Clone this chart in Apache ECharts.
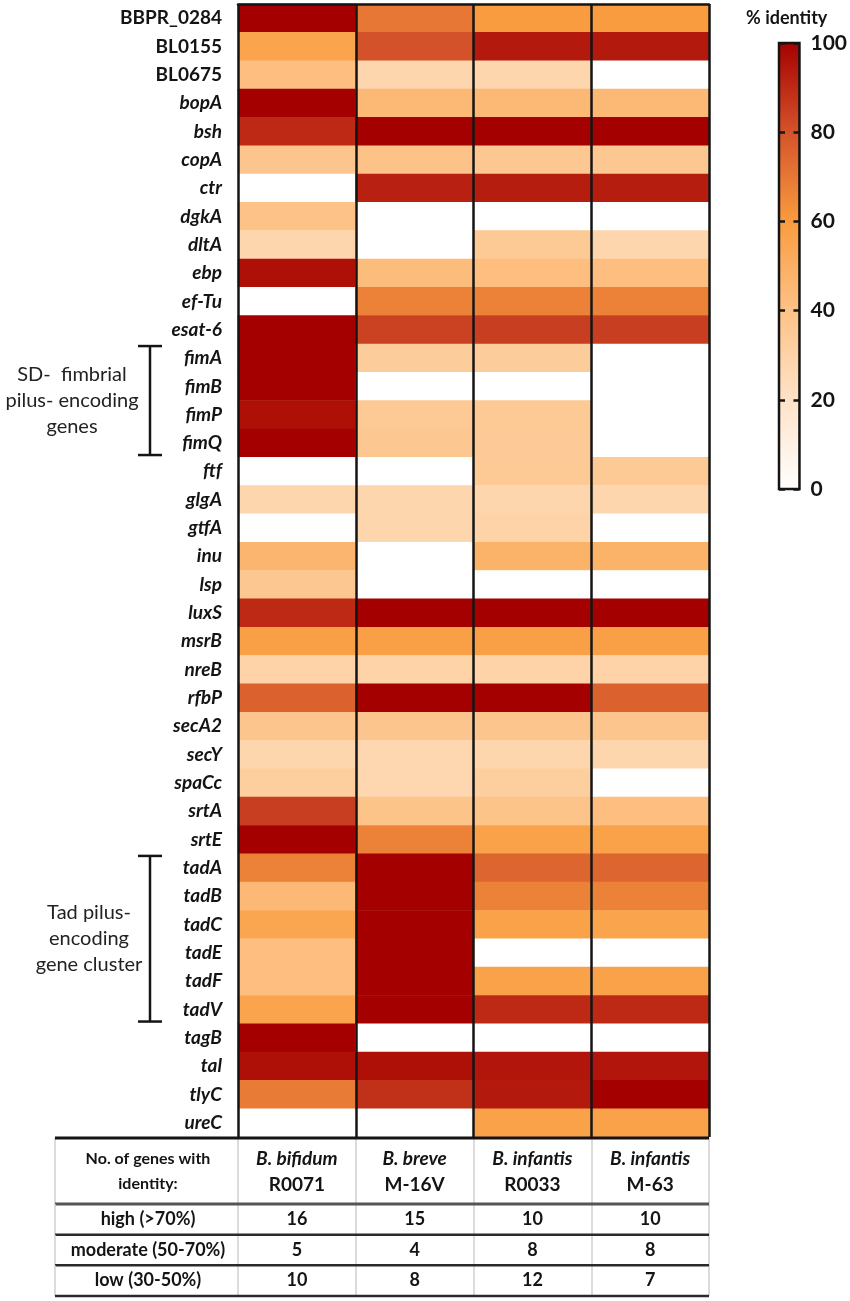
<!DOCTYPE html>
<html>
<head>
<meta charset="utf-8">
<script src="https://cdn.jsdelivr.net/npm/echarts@6/dist/echarts.min.js"></script>
<style>
  html, body { margin: 0; padding: 0; background: #fff; }
  #main { width: 850px; height: 1301px; }
</style>
</head>
<body>
<div id="main"></div>
<script>
// columns: strains
var strainNames = ['B. bifidum', 'B. breve', 'B. infantis', 'B. infantis'];
var strainCodes = ['R0071', 'M-16V', 'R0033', 'M-63'];

// rows: genes (top to bottom)
var genes = ['BBPR_0284', 'BL0155', 'BL0675', 'bopA', 'bsh', 'copA', 'ctr', 'dgkA', 'dltA', 'ebp',
  'ef-Tu', 'esat-6', 'fimA', 'fimB', 'fimP', 'fimQ', 'ftf', 'glgA', 'gtfA', 'inu',
  'lsp', 'luxS', 'msrB', 'nreB', 'rfbP', 'secA2', 'secY', 'spaCc', 'srtA', 'srtE',
  'tadA', 'tadB', 'tadC', 'tadE', 'tadF', 'tadV', 'tagB', 'tal', 'tlyC', 'ureC'];
// locus tags are not written in italics
var plainGenes = ['BBPR_0284', 'BL0155', 'BL0675'];

// % identity, one list per strain, same order as genes
var bifidumR0071 = [100, 56, 42, 100, 90, 38, 0, 40, 28, 96,
  0, 100, 100, 100, 96, 100, 0, 28, 0, 47,
  37, 90, 58, 30, 76, 38, 28, 33, 85, 100,
  67, 45, 55, 42, 42, 56, 100, 96, 69, 0];
var breveM16V = [70, 80, 28, 45, 100, 40, 92, 0, 0, 43,
  67, 84, 34, 0, 36, 37, 0, 28, 28, 0,
  0, 100, 58, 30, 100, 38, 27, 27, 39, 67,
  100, 100, 100, 100, 100, 100, 0, 96, 88, 0];
var infantisR0033 = [60, 94, 28, 45, 100, 37, 93, 0, 36, 42,
  67, 85, 34, 0, 36, 35, 36, 28, 30, 48,
  0, 100, 58, 30, 100, 38, 28, 33, 39, 57,
  75, 67, 57, 0, 57, 90, 0, 95, 94, 57];
var infantisM63 = [60, 94, 0, 45, 100, 37, 93, 0, 28, 42,
  67, 85, 0, 0, 0, 0, 36, 28, 0, 48,
  0, 100, 58, 30, 76, 38, 28, 0, 42, 57,
  75, 67, 56, 0, 57, 90, 0, 95, 100, 57];

// colour scale
var scaleTicks = [0, 20, 40, 60, 80, 100];
var scaleColors = ['#ffffff', '#fee3c8', '#fdc287', '#f99c3f', '#d4522a', '#a50000'];

// summary table
var countRows = ['high (>70%)', 'moderate (50-70%)', 'low (30-50%)'];
var countHigh = [16, 15, 10, 10];
var countModerate = [5, 4, 8, 8];
var countLow = [10, 8, 12, 7];

// bracketed gene groups
var geneGroups = [
  { label: 'SD-  fimbrial\npilus- encoding\ngenes', from: 'fimA', to: 'fimQ', textX: 72 },
  { label: 'Tad pilus-\nencoding\ngene cluster', from: 'tadA', to: 'tadV', textX: 89 }
];

var FONT = 'Lato, "Open Sans", sans-serif';
var INK = '#141414';
var LABEL_COL = 183; // width of the table's label column

var strainSeries = [bifidumR0071, breveM16V, infantisR0033, infantisM63];
var heatData = [];
strainSeries.forEach(function (vals, i) {
  vals.forEach(function (v, j) { heatData.push([i, j, v]); });
});

var countSeries = [countHigh, countModerate, countLow];
var countData = [];
countSeries.forEach(function (vals, j) {
  vals.forEach(function (v, i) { countData.push([i, j, v]); });
});

var headerData = strainNames.map(function (n, i) { return [i, 0]; });

var gradStops = scaleTicks.map(function (t, k) {
  return { offset: 1 - t / 100, color: scaleColors[k] };
}).reverse();

function txt(text, x, y, font, align) {
  return {
    type: 'text',
    style: {
      text: text, x: x, y: y, font: font, fill: INK,
      align: align || 'center', textAlign: align || 'center',
      verticalAlign: 'middle', textVerticalAlign: 'middle'
    }
  };
}

function hline(x1, x2, y, color, w) {
  return { type: 'line', shape: { x1: x1, y1: y, x2: x2, y2: y }, style: { stroke: color, lineWidth: w } };
}

function renderHeader(params, api) {
  var p = api.coord([api.value(0), api.value(1)]);
  var cs = params.coordSys;
  var i = api.value(0);
  var kids = [
    txt(strainNames[i], p[0], p[1] - 12, 'italic bold 19px ' + FONT),
    txt(strainCodes[i], p[0], p[1] + 14, 'bold 19px ' + FONT)
  ];
  if (i === 0) {
    kids.push({ type: 'line', shape: { x1: cs.x - LABEL_COL, y1: cs.y, x2: cs.x - LABEL_COL, y2: cs.y + cs.height },
      style: { stroke: '#cfcfcf', lineWidth: 1.5 } });
    kids.push(hline(cs.x - LABEL_COL, cs.x + cs.width, cs.y + cs.height, '#555', 3));
    kids.push(hline(cs.x - LABEL_COL, cs.x + cs.width, cs.y, INK, 3));
  }
  return { type: 'group', children: kids };
}

function renderCount(params, api) {
  var p = api.coord([api.value(0), api.value(1)]);
  var size = api.size([1, 1]);
  var cs = params.coordSys;
  var kids = [txt(String(api.value(2)), p[0], p[1], 'bold 18px ' + FONT)];
  if (api.value(0) === 0) {
    var yt = p[1] - size[1] / 2, yb = p[1] + size[1] / 2;
    kids.push({ type: 'line', shape: { x1: cs.x - LABEL_COL, y1: yt, x2: cs.x - LABEL_COL, y2: yb },
      style: { stroke: '#cfcfcf', lineWidth: 1.5 } });
    kids.push(hline(cs.x - LABEL_COL, cs.x + cs.width, yb, '#2a2a2a', 2.5));
  }
  return { type: 'group', children: kids };
}

var chart = echarts.init(document.getElementById('main'));

var option = {
  animation: false,
  backgroundColor: '#fff',
  textStyle: { fontFamily: FONT },
  grid: [
    { left: 238, top: 4, width: 471, height: 1133 },
    { left: 238, top: 1138, width: 471, height: 66 },
    { left: 238, top: 1204, width: 471, height: 92 },
    { left: 779, top: 43, width: 24, height: 446, show: true,
      backgroundColor: new echarts.graphic.LinearGradient(0, 0, 0, 1, gradStops),
      borderColor: INK, borderWidth: 2.5 }
  ],
  xAxis: [
    { gridIndex: 0, type: 'category', data: strainCodes, position: 'top', z: 10,
      axisLine: { show: true, lineStyle: { color: INK, width: 2.5 } },
      axisTick: { show: false }, axisLabel: { show: false },
      splitLine: { show: true, lineStyle: { color: INK, width: 2.5 } } },
    { gridIndex: 1, type: 'category', data: strainCodes,
      axisLine: { show: false }, axisTick: { show: false }, axisLabel: { show: false },
      splitLine: { show: true, lineStyle: { color: '#cfcfcf', width: 1.5 } } },
    { gridIndex: 2, type: 'category', data: strainCodes,
      axisLine: { show: false }, axisTick: { show: false }, axisLabel: { show: false },
      splitLine: { show: true, lineStyle: { color: '#cfcfcf', width: 1.5 } } },
    { gridIndex: 3, type: 'category', data: [''], show: false }
  ],
  yAxis: [
    { gridIndex: 0, type: 'category', data: genes, inverse: true,
      axisLine: { show: false }, axisTick: { show: false }, splitLine: { show: false },
      axisLabel: {
        margin: 16, color: INK,
        formatter: function (v) {
          return plainGenes.indexOf(v) >= 0 ? '{n|' + v + '}' : '{i|' + v + '}';
        },
        rich: {
          n: { fontFamily: FONT, fontWeight: 'bold', fontSize: 19, color: INK },
          i: { fontFamily: FONT, fontWeight: 'bold', fontStyle: 'italic', fontSize: 19, color: INK }
        }
      } },
    { gridIndex: 1, type: 'category', data: ['No. of genes with\nidentity:'],
      axisLine: { show: false }, axisTick: { show: false },
      axisLabel: { margin: 90, align: 'center', color: INK, fontWeight: 'bold', fontSize: 16, lineHeight: 25 } },
    { gridIndex: 2, type: 'category', data: countRows, inverse: true,
      axisLine: { show: false }, axisTick: { show: false },
      axisLabel: { margin: 90, align: 'center', color: INK, fontWeight: 'bold', fontSize: 18 } },
    { gridIndex: 3, type: 'value', min: 0, max: 100, interval: 20, position: 'right',
      axisLine: { show: false }, splitLine: { show: false },
      axisTick: { show: true, inside: true, length: 6, lineStyle: { color: INK, width: 2.5 } },
      axisLabel: { margin: 11, color: INK, fontWeight: 'bold', fontSize: 21 } },
    { gridIndex: 3, type: 'value', min: 0, max: 100, interval: 20, position: 'left',
      axisLine: { show: false }, splitLine: { show: false },
      axisTick: { show: true, inside: true, length: 6, lineStyle: { color: INK, width: 2.5 } },
      axisLabel: { show: false } }
  ],
  visualMap: {
    show: false, type: 'continuous', min: 0, max: 100, seriesIndex: 0,
    inRange: { color: scaleColors }
  },
  series: [
    { type: 'heatmap', xAxisIndex: 0, yAxisIndex: 0, data: heatData,
      itemStyle: { borderWidth: 0 }, emphasis: { disabled: true } },
    { type: 'custom', xAxisIndex: 1, yAxisIndex: 1, data: headerData, renderItem: renderHeader, z: 5 },
    { type: 'custom', xAxisIndex: 2, yAxisIndex: 2, data: countData, renderItem: renderCount, z: 5 }
  ]
};

chart.setOption(option);

// brackets beside the gene groups, placed from the gene axis
var graphics = [{
  type: 'text', left: 746, top: 9,
  style: { text: '% identity', font: 'bold 18px ' + FONT, fill: INK }
}];
geneGroups.forEach(function (g) {
  var y1 = chart.convertToPixel({ yAxisIndex: 0 }, g.from) - 12;
  var y2 = chart.convertToPixel({ yAxisIndex: 0 }, g.to) + 12;
  var bx = 150;
  graphics.push({ type: 'line', shape: { x1: bx, y1: y1, x2: bx, y2: y2 }, style: { stroke: INK, lineWidth: 2.5 } });
  graphics.push({ type: 'line', shape: { x1: bx - 12, y1: y1, x2: bx + 12, y2: y1 }, style: { stroke: INK, lineWidth: 2.5 } });
  graphics.push({ type: 'line', shape: { x1: bx - 12, y1: y2, x2: bx + 12, y2: y2 }, style: { stroke: INK, lineWidth: 2.5 } });
  graphics.push({
    type: 'text', x: g.textX, y: (y1 + y2) / 2,
    style: { text: g.label, font: '20px ' + FONT, fill: '#222', lineHeight: 26,
      align: 'center', verticalAlign: 'middle', textAlign: 'center', textVerticalAlign: 'middle' }
  });
});
chart.setOption({ graphic: graphics });
</script>
</body>
</html>
